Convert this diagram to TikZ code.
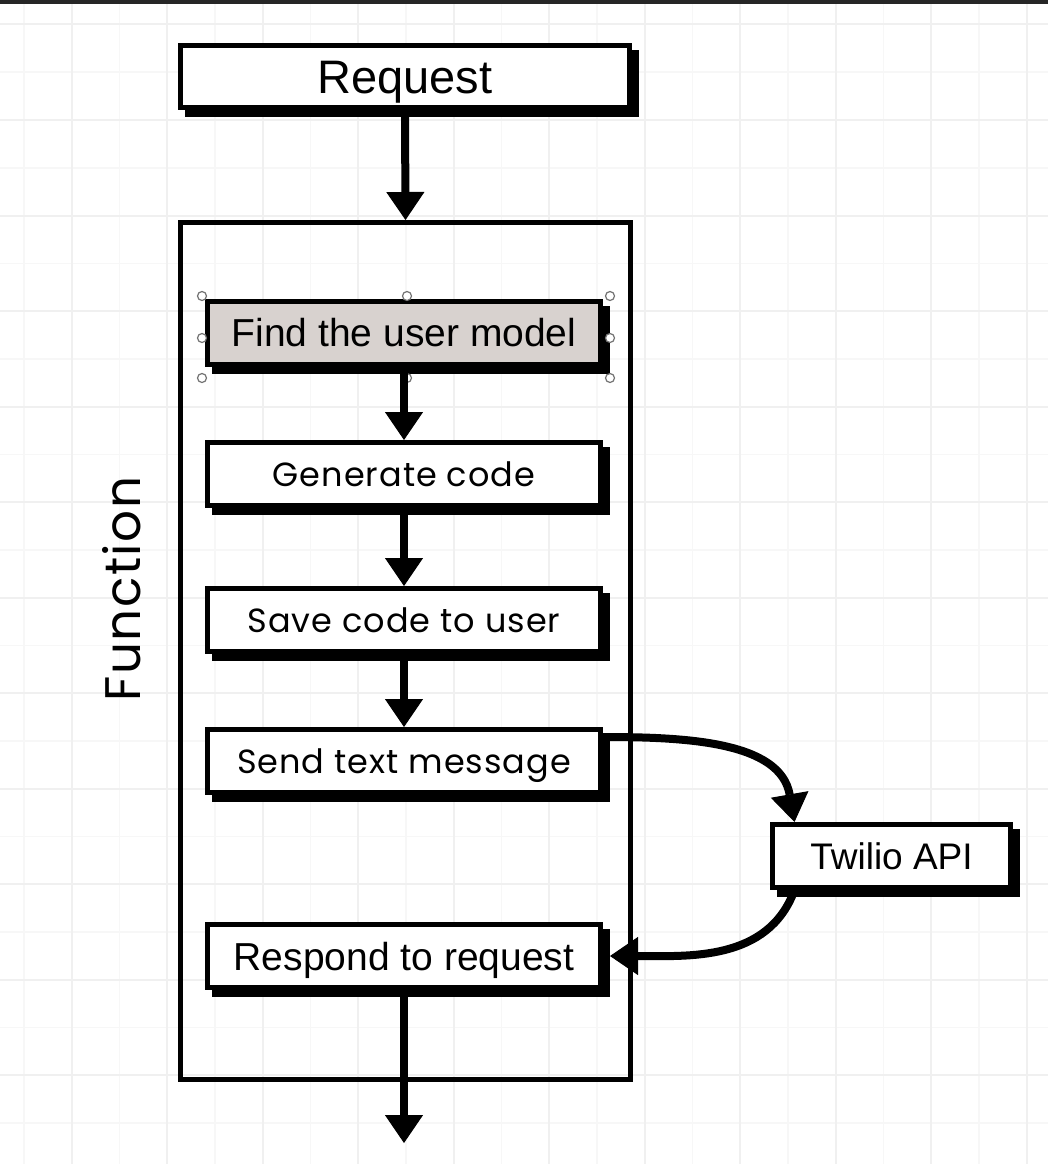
\documentclass[tikz,border=0pt]{standalone}
\usepackage{fontspec}
\setmainfont{Liberation Sans}
\newfontfamily\roundfont[LetterSpace=3]{Poppins}
\usetikzlibrary{arrows.meta,shadows}
\begin{document}
\begin{tikzpicture}[x=1pt,y=1pt,
  gridmajor/.style={draw=black!6,line width=2pt},
  gridminor/.style={draw=black!3,line width=1.5pt},
  shadowbox/.style={draw=black, line width=5pt, fill=white, inner sep=0pt, text depth=0pt,
    general shadow={fill=black, draw=black, line width=5pt, shadow xshift=7pt, shadow yshift=-7pt}},
  stepbox/.style={shadowbox, minimum width=393pt, minimum height=63pt},
  roundtext/.style={font=\roundfont\fontsize{33.5}{40}\selectfont, text height=24pt},
  arialtext/.style={font=\fontsize{39}{44}\selectfont, text height=28pt},
  container/.style={draw=black, line width=5pt, minimum width=450pt, minimum height=857pt, inner sep=0pt},
  arr/.style={line width=8pt, -{Triangle[length=28pt,width=38pt,line width=1pt]}},
  handle/.style={circle, draw=black!55, fill=white, line width=1.2pt, minimum size=9pt, inner sep=0pt}
]
\useasboundingbox (0,0) rectangle (1048,-1164);
\fill[white] (0,0) rectangle (1048,-1164);
% grid
\foreach \m in {0,...,10} \draw[gridminor] (23.75+95.5*\m,0) -- (23.75+95.5*\m,-1164);
\foreach \m in {0,...,11} \draw[gridminor] (0,-72.25-95.5*\m) -- (1048,-72.25-95.5*\m);
\foreach \m in {0,...,10} \draw[gridmajor] (71.5+95.5*\m,0) -- (71.5+95.5*\m,-1164);
\foreach \m in {0,...,11} \draw[gridmajor] (0,-24.5-95.5*\m) -- (1048,-24.5-95.5*\m);
\fill[black!85] (0,0) rectangle (1048,-4);

% container
\node[container] (func) at (405.5,-651) {};
\node[rotate=90, font=\roundfont\fontsize{50}{58}\selectfont] (flabel) at (122,-589) {Function};

% boxes
\node[shadowbox, minimum width=449pt, minimum height=62pt, font=\fontsize{47}{52}\selectfont, text height=33.5pt] (req) at (405,-76.5) {Request};
\node[stepbox, arialtext, fill={rgb,255:red,216;green,210;blue,207}] (find) at (404,-332.5) {Find the user model};
\node[stepbox, roundtext] (gen) at (404,-474) {Generate code};
\node[stepbox, roundtext] (save) at (404,-620) {Save code to user};
\node[stepbox, roundtext] (send) at (404,-761) {Send text message};
\node[stepbox, arialtext] (resp) at (404,-956) {Respond to request};
\node[shadowbox, minimum width=238pt, minimum height=63pt, font=\fontsize{37}{42}\selectfont, text height=26.5pt] (twilio) at (891.5,-856) {Twilio API};
\coordinate (out) at (404,-1143);

% selection handles
\foreach \p in {(202,-296),(407,-296),(610,-296),(202,-338),(610,-338),(202,-378),(407,-378),(610,-378)}
  \node[handle] at \p {};

% connectors
\draw[arr] (req.south) -- (func.north);
\draw[arr] (find.south) -- (gen.north);
\draw[arr] (gen.south) -- (save.north);
\draw[arr] (save.south) -- (send.north);
\draw[arr] ([yshift=-10pt]send.north east) to[out=0,in=100] ([xshift=24.5pt]twilio.north west);
\draw[arr] ([xshift=24.5pt]twilio.south west) to[out=-110,in=0] ([xshift=7pt]resp.east);
\draw[arr] (resp.south) -- (out);
\end{tikzpicture}
\end{document}
